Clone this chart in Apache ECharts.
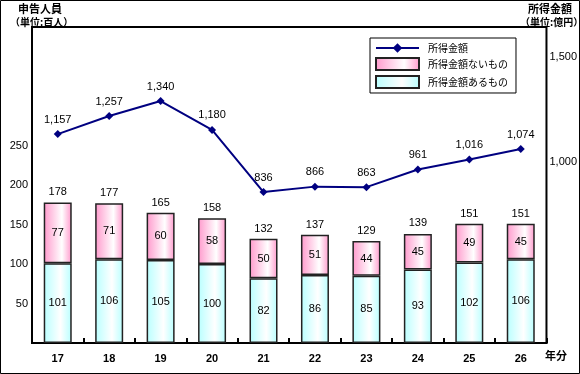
<!DOCTYPE html>
<html><head><meta charset="utf-8">
<script src="https://cdn.jsdelivr.net/npm/echarts@6/dist/echarts.min.js"></script>
<style>html,body{margin:0;padding:0;background:#fff}#c{width:580px;height:374px;}</style>
</head><body><div id="c"></div>
<script>
const categories = ['17','18','19','20','21','22','23','24','25','26'];
const withIncome = [101,106,105,100,82,86,85,93,102,106];
const withoutIncome = [77,71,60,58,50,51,44,45,49,45];
const totals = [178,177,165,158,132,137,129,139,151,151];
const incomeAmount = [1157,1257,1340,1180,836,866,863,961,1016,1074];
const leftTicks = [50,100,150,200,250];
const rightTicks = [1000,1500];

const FONT = '"Liberation Sans", Arial, sans-serif';
const JP = '"Noto Sans CJK JP", sans-serif';
const fmt = v => v.toLocaleString('en-US');

const chart = echarts.init(document.getElementById('c'), null, {renderer:'canvas'});
chart.setOption({
  animation:false,
  backgroundColor:'#fff',
  grid:{left:32, right:33, top:27, bottom:31, show:true, borderColor:'#000', borderWidth:2, containLabel:false},
  legend:{
    orient:'vertical', left:370, top:38,
    data:[{name:'所得金額'},{name:'所得金額ないもの', icon:'rect'},{name:'所得金額あるもの', icon:'rect'}],
    backgroundColor:'#fff', borderColor:'#000', borderWidth:1,
    padding:[5,8,4,5], itemGap:4, itemWidth:43, itemHeight:12,
    textStyle:{fontFamily:JP, fontSize:10, color:'#000', padding:[0,0,0,4]}
  },
  graphic:[
    {type:'rect', shape:{x:0.5,y:0.5,width:579,height:373}, style:{fill:null, stroke:'#000', lineWidth:1}, silent:true},
    {type:'text', left:18, top:3, style:{text:'申告人員', font:'bold 11px '+JP, fill:'#000'}},
    {type:'text', left:10, top:17, style:{text:'（単位:百人）', font:'bold 10px '+JP, fill:'#000'}},
    {type:'text', left:528, top:3, style:{text:'所得金額', font:'bold 11px '+JP, fill:'#000'}},
    {type:'text', left:520, top:17, style:{text:'（単位:億円）', font:'bold 10px '+JP, fill:'#000'}},
    {type:'text', left:545, top:350, style:{text:'年分', font:'bold 11px '+JP, fill:'#000'}}
  ],
  xAxis:{
    type:'category', data:categories,
    axisLine:{lineStyle:{color:'#000', width:2}},
    axisTick:{show:true, inside:true, length:5, lineStyle:{color:'#000', width:2}},
    axisLabel:{margin:10, fontFamily:FONT, fontSize:11, fontWeight:'bold', color:'#000'}
  },
  yAxis:[
    {type:'value', min:0, max:400, interval:50,
     splitLine:{show:false}, axisLine:{show:false}, axisTick:{show:false},
     axisLabel:{margin:4, fontFamily:FONT, fontSize:11, color:'#000',
       formatter:v => leftTicks.includes(v) ? String(v) : ''}},
    {type:'value', min:0, max:1750, interval:500,
     splitLine:{show:false}, axisLine:{show:false}, axisTick:{show:false},
     axisLabel:{margin:3, fontFamily:FONT, fontSize:11, color:'#000',
       formatter:v => v===1500 ? '{up|'+fmt(v)+'}' : (rightTicks.includes(v) ? fmt(v) : ''),
       rich:{up:{fontFamily:FONT, fontSize:11, color:'#000', padding:[0,0,30,0]}}}}
  ],
  series:[
    {name:'所得金額あるもの', type:'bar', stack:'p', barWidth:28, data:withIncome,
     itemStyle:{color:new echarts.graphic.LinearGradient(0,0,1,0,[{offset:0,color:'#b8ffff'},{offset:0.6,color:'#ffffff'},{offset:1,color:'#b8ffff'}]), borderColor:'#222', borderWidth:1.5},
     label:{show:true, position:'inside', fontFamily:FONT, fontSize:11, color:'#000'}},
    {name:'所得金額ないもの', type:'bar', stack:'p', barWidth:28, data:withoutIncome,
     itemStyle:{color:new echarts.graphic.LinearGradient(0,0,1,0,[{offset:0,color:'#ff99cc'},{offset:0.65,color:'#ffffff'},{offset:1,color:'#ff99cc'}]), borderColor:'#222', borderWidth:1.5},
     label:{show:true, position:'inside', fontFamily:FONT, fontSize:11, color:'#000'}},
    {name:'合計', type:'scatter', data:totals, symbolSize:1, silent:true,
     itemStyle:{opacity:1, color:'rgba(0,0,0,0)'},
     label:{show:true, position:'top', distance:4, fontFamily:FONT, fontSize:11, color:'#000', opacity:1}},
    {name:'所得金額', type:'line', yAxisIndex:1, data:incomeAmount, z:5,
     symbol:'diamond', symbolSize:8, color:'#000080',
     lineStyle:{color:'#000080', width:2}, itemStyle:{color:'#000080'},
     label:{show:true, position:'top', distance:5, fontFamily:FONT, fontSize:11, color:'#000', formatter:p => fmt(p.value)}}
  ]
});
</script></body></html>
